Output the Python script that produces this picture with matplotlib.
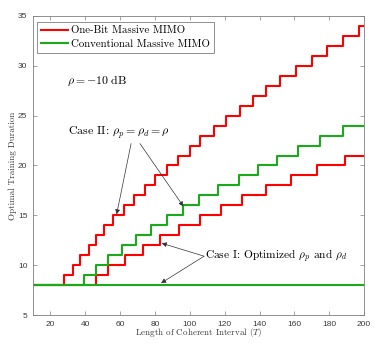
import numpy as np
import matplotlib
matplotlib.use('Agg')
import matplotlib.pyplot as plt

plt.rcParams['mathtext.fontset'] = 'cm'
plt.rcParams['font.family'] = ['Liberation Sans', 'DejaVu Sans']

# coherent interval range
T_start, T_end = 10, 200
base_level = 8

# T at which the optimal training duration steps up by one
onebit_case2_steps = [28, 33, 37, 42, 46, 51, 56, 62, 68, 74, 80, 87, 93, 100,
                      106, 114, 121, 129, 136, 144, 152, 161, 170, 179, 188, 197]
onebit_case1_steps = [46, 53, 63, 73, 83, 94, 106, 118, 130, 144, 158, 173, 189]
conv_case2_steps = [39, 46, 53, 61, 69, 78, 87, 96, 105, 116, 128, 139, 150, 162, 175, 188]
conv_case1_level = 8

red = '#ff0000'
green = '#1aab1a'
serif = 'cmr10'
axis_col = '#7f7f7f'
label_col = '#3a3a3a'


def step_series(steps):
    x = [T_start] + steps + [T_end]
    y = [base_level] + [base_level + i + 1 for i in range(len(steps))]
    y = y + [y[-1]]
    return x, y


fig = plt.figure(figsize=(3.82, 3.44), dpi=100)
ax = fig.add_axes([0.0864, 0.0843, 0.8666, 0.8692])

x, y = step_series(onebit_case2_steps)
ax.step(x, y, where='post', color=red, lw=1.5, label='One-Bit Massive MIMO')
x, y = step_series(onebit_case1_steps)
ax.step(x, y, where='post', color=red, lw=1.5)
x, y = step_series(conv_case2_steps)
ax.step(x, y, where='post', color=green, lw=1.5, label='Conventional Massive MIMO')
ax.plot([T_start, T_end], [conv_case1_level, conv_case1_level], color=green, lw=1.5)

ax.set_xlim(T_start, T_end)
ax.set_ylim(5, 35)
ax.set_xticks(np.arange(20, 201, 20))
ax.set_yticks(np.arange(5, 36, 5))
ax.tick_params(direction='in', top=True, right=True, labelsize=6, length=3,
               width=0.5, color=axis_col, labelcolor=label_col, pad=4)
for s in ax.spines.values():
    s.set_linewidth(0.6)
    s.set_color(axis_col)

ax.set_xlabel(r'Length of Coherent Interval ($T$)', fontfamily=serif, fontsize=6.5,
              labelpad=-1, color=label_col)
ax.set_ylabel('Optimal Training Duration', fontfamily=serif, fontsize=6.5,
              labelpad=1, color=label_col)

leg = ax.legend(loc='upper left', bbox_to_anchor=(0.013, 0.98), fancybox=False,
                framealpha=1, edgecolor=axis_col, prop={'family': serif, 'size': 7.8},
                handlelength=2.5, handletextpad=0.25, borderpad=0.35, labelspacing=0.35,
                borderaxespad=0)
leg.get_frame().set_linewidth(0.6)

ax.text(29.5, 28.5, r'$\rho = -10\ \mathrm{dB}$', fontsize=8.5, va='center')

arrow = dict(arrowstyle='-|>', color='#333333', lw=0.5, mutation_scale=7,
             shrinkA=0, shrinkB=0)
ax.text(30.3, 23.3, r'Case II: $\rho_p = \rho_d = \rho$', fontfamily=serif,
        fontsize=8.6, va='center')
ax.annotate('', xy=(58, 15.1), xytext=(66.3, 22.2), arrowprops=arrow)
ax.annotate('', xy=(96.3, 15.9), xytext=(71.4, 22.2), arrowprops=arrow)

ax.text(108.7, 10.9, r'Case I: Optimized $\rho_p$ and $\rho_d$', fontfamily=serif,
        fontsize=8.2, va='center')
ax.annotate('', xy=(83.9, 12.2), xytext=(108.2, 10.9), arrowprops=arrow)
ax.annotate('', xy=(83.5, 8.2), xytext=(108.2, 10.9), arrowprops=arrow)

fig.savefig('out.png', dpi=100)
